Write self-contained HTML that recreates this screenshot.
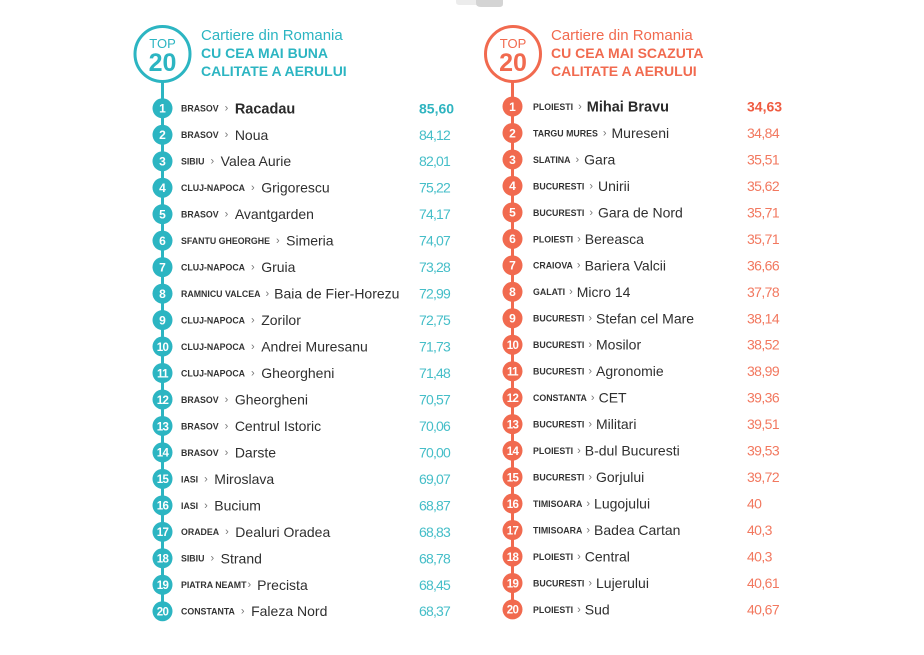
<!DOCTYPE html>
<html>
<head>
<meta charset="utf-8">
<style>
html,body{margin:0;padding:0;background:#fff;}
body{width:924px;height:655px;overflow:hidden;}
svg{display:block;}
text{font-family:"Liberation Sans",sans-serif;}
.n{fill:#fff;font-weight:bold;font-size:12px;text-anchor:middle;}
.n2{fill:#fff;font-weight:bold;font-size:11.5px;text-anchor:middle;letter-spacing:-0.6px;}
.c{fill:#333;font-weight:bold;font-size:8.8px;}
.s{fill:#777;font-weight:normal;font-size:11px;}
.h{fill:#2f2f2f;font-weight:normal;font-size:14px;}
.hb{fill:#2a2a2a;font-weight:bold;font-size:14.5px;}
.vt{fill:#45bec8;font-size:14px;letter-spacing:-0.8px;}
.vtb{fill:#2fb4c0;font-size:14px;font-weight:bold;}
.vc{fill:#f2785f;font-size:14px;letter-spacing:-0.6px;}
.vcb{fill:#ef5b40;font-size:14px;font-weight:bold;}
</style>
</head>
<body>
<svg width="924" height="655" viewBox="0 0 924 655" xmlns="http://www.w3.org/2000/svg">
<!-- top gray shape -->
<path d="M456 0 H503 V3 Q503 5 500 5 H460 Q456 5 456 2 Z" fill="#ececec"/>
<path d="M476 0 H503 V4 Q503 7 499 7 H481 Q476 7 476 3 Z" fill="#d4d4d4"/>

<!-- LEFT COLUMN -->
<line x1="162.5" y1="80" x2="162.5" y2="611" stroke="#2cb5c2" stroke-width="3"/>
<circle cx="162.5" cy="54" r="27.5" fill="#fff" stroke="#2cb5c2" stroke-width="3"/>
<text x="162.5" y="48" text-anchor="middle" style="fill:#2cb5c2;font-size:13px;">TOP</text>
<text x="162.5" y="71" text-anchor="middle" style="fill:#2cb5c2;font-size:25px;font-weight:bold;">20</text>
<text x="201" y="40" style="fill:#2cb5c2;font-size:15px;">Cartiere din Romania</text>
<text x="201" y="58" style="fill:#2cb5c2;font-size:14px;font-weight:bold;">CU CEA MAI BUNA</text>
<text x="201" y="76" style="fill:#2cb5c2;font-size:14px;font-weight:bold;">CALITATE A AERULUI</text>

<g fill="#2cb5c2">
<g transform="translate(0,108.3)"><circle cx="162.5" r="10"/><text x="162.5" y="4.3" class="n">1</text><text x="181" y="3.4" class="c">BRASOV<tspan class="s" dx="6">›</tspan><tspan class="hb" dx="6.5" dy="1.6">Racadau</tspan></text><text x="419" y="5" class="vtb">85,60</text></g>
<g transform="translate(0,134.77)"><circle cx="162.5" r="10"/><text x="162.5" y="4.3" class="n">2</text><text x="181" y="3.4" class="c">BRASOV<tspan class="s" dx="6">›</tspan><tspan class="h" dx="6.5" dy="1.6">Noua</tspan></text><text x="419" y="5" class="vt">84,12</text></g>
<g transform="translate(0,161.24)"><circle cx="162.5" r="10"/><text x="162.5" y="4.3" class="n">3</text><text x="181" y="3.4" class="c">SIBIU<tspan class="s" dx="6">›</tspan><tspan class="h" dx="6.5" dy="1.6">Valea Aurie</tspan></text><text x="419" y="5" class="vt">82,01</text></g>
<g transform="translate(0,187.71)"><circle cx="162.5" r="10"/><text x="162.5" y="4.3" class="n">4</text><text x="181" y="3.4" class="c">CLUJ-NAPOCA<tspan class="s" dx="6">›</tspan><tspan class="h" dx="6.5" dy="1.6">Grigorescu</tspan></text><text x="419" y="5" class="vt">75,22</text></g>
<g transform="translate(0,214.18)"><circle cx="162.5" r="10"/><text x="162.5" y="4.3" class="n">5</text><text x="181" y="3.4" class="c">BRASOV<tspan class="s" dx="6">›</tspan><tspan class="h" dx="6.5" dy="1.6">Avantgarden</tspan></text><text x="419" y="5" class="vt">74,17</text></g>
<g transform="translate(0,240.65)"><circle cx="162.5" r="10"/><text x="162.5" y="4.3" class="n">6</text><text x="181" y="3.4" class="c">SFANTU GHEORGHE<tspan class="s" dx="6">›</tspan><tspan class="h" dx="6.5" dy="1.6">Simeria</tspan></text><text x="419" y="5" class="vt">74,07</text></g>
<g transform="translate(0,267.12)"><circle cx="162.5" r="10"/><text x="162.5" y="4.3" class="n">7</text><text x="181" y="3.4" class="c">CLUJ-NAPOCA<tspan class="s" dx="6">›</tspan><tspan class="h" dx="6.5" dy="1.6">Gruia</tspan></text><text x="419" y="5" class="vt">73,28</text></g>
<g transform="translate(0,293.59)"><circle cx="162.5" r="10"/><text x="162.5" y="4.3" class="n">8</text><text x="181" y="3.4" class="c">RAMNICU VALCEA<tspan class="s" dx="5">›</tspan><tspan class="h" dx="5" dy="1.6">Baia de Fier-Horezu</tspan></text><text x="419" y="5" class="vt">72,99</text></g>
<g transform="translate(0,320.06)"><circle cx="162.5" r="10"/><text x="162.5" y="4.3" class="n">9</text><text x="181" y="3.4" class="c">CLUJ-NAPOCA<tspan class="s" dx="6">›</tspan><tspan class="h" dx="6.5" dy="1.6">Zorilor</tspan></text><text x="419" y="5" class="vt">72,75</text></g>
<g transform="translate(0,346.53)"><circle cx="162.5" r="10"/><text x="162.5" y="4.3" class="n2">10</text><text x="181" y="3.4" class="c">CLUJ-NAPOCA<tspan class="s" dx="6">›</tspan><tspan class="h" dx="6.5" dy="1.6">Andrei Muresanu</tspan></text><text x="419" y="5" class="vt">71,73</text></g>
<g transform="translate(0,373)"><circle cx="162.5" r="10"/><text x="162.5" y="4.3" class="n2">11</text><text x="181" y="3.4" class="c">CLUJ-NAPOCA<tspan class="s" dx="6">›</tspan><tspan class="h" dx="6.5" dy="1.6">Gheorgheni</tspan></text><text x="419" y="5" class="vt">71,48</text></g>
<g transform="translate(0,399.47)"><circle cx="162.5" r="10"/><text x="162.5" y="4.3" class="n2">12</text><text x="181" y="3.4" class="c">BRASOV<tspan class="s" dx="6">›</tspan><tspan class="h" dx="6.5" dy="1.6">Gheorgheni</tspan></text><text x="419" y="5" class="vt">70,57</text></g>
<g transform="translate(0,425.94)"><circle cx="162.5" r="10"/><text x="162.5" y="4.3" class="n2">13</text><text x="181" y="3.4" class="c">BRASOV<tspan class="s" dx="6">›</tspan><tspan class="h" dx="6.5" dy="1.6">Centrul Istoric</tspan></text><text x="419" y="5" class="vt">70,06</text></g>
<g transform="translate(0,452.41)"><circle cx="162.5" r="10"/><text x="162.5" y="4.3" class="n2">14</text><text x="181" y="3.4" class="c">BRASOV<tspan class="s" dx="6">›</tspan><tspan class="h" dx="6.5" dy="1.6">Darste</tspan></text><text x="419" y="5" class="vt">70,00</text></g>
<g transform="translate(0,478.88)"><circle cx="162.5" r="10"/><text x="162.5" y="4.3" class="n2">15</text><text x="181" y="3.4" class="c">IASI<tspan class="s" dx="6">›</tspan><tspan class="h" dx="6.5" dy="1.6">Miroslava</tspan></text><text x="419" y="5" class="vt">69,07</text></g>
<g transform="translate(0,505.35)"><circle cx="162.5" r="10"/><text x="162.5" y="4.3" class="n2">16</text><text x="181" y="3.4" class="c">IASI<tspan class="s" dx="6">›</tspan><tspan class="h" dx="6.5" dy="1.6">Bucium</tspan></text><text x="419" y="5" class="vt">68,87</text></g>
<g transform="translate(0,531.82)"><circle cx="162.5" r="10"/><text x="162.5" y="4.3" class="n2">17</text><text x="181" y="3.4" class="c">ORADEA<tspan class="s" dx="6">›</tspan><tspan class="h" dx="6.5" dy="1.6">Dealuri Oradea</tspan></text><text x="419" y="5" class="vt">68,83</text></g>
<g transform="translate(0,558.29)"><circle cx="162.5" r="10"/><text x="162.5" y="4.3" class="n2">18</text><text x="181" y="3.4" class="c">SIBIU<tspan class="s" dx="6">›</tspan><tspan class="h" dx="6.5" dy="1.6">Strand</tspan></text><text x="419" y="5" class="vt">68,78</text></g>
<g transform="translate(0,584.76)"><circle cx="162.5" r="10"/><text x="162.5" y="4.3" class="n2">19</text><text x="181" y="3.4" class="c">PIATRA NEAMT<tspan class="s" dx="1">›</tspan><tspan class="h" dx="6" dy="1.6">Precista</tspan></text><text x="419" y="5" class="vt">68,45</text></g>
<g transform="translate(0,611.23)"><circle cx="162.5" r="10"/><text x="162.5" y="4.3" class="n2">20</text><text x="181" y="3.4" class="c">CONSTANTA<tspan class="s" dx="6">›</tspan><tspan class="h" dx="6.5" dy="1.6">Faleza Nord</tspan></text><text x="419" y="5" class="vt">68,37</text></g>
</g>

<!-- RIGHT COLUMN -->
<line x1="512.5" y1="80" x2="512.5" y2="609" stroke="#f16a4f" stroke-width="3"/>
<circle cx="513" cy="54" r="27.5" fill="#fff" stroke="#f16a4f" stroke-width="3"/>
<text x="513" y="48" text-anchor="middle" style="fill:#f16a4f;font-size:13px;">TOP</text>
<text x="513" y="71" text-anchor="middle" style="fill:#f16a4f;font-size:25px;font-weight:bold;">20</text>
<text x="551" y="40" style="fill:#f16a4f;font-size:15px;">Cartiere din Romania</text>
<text x="551" y="58" style="fill:#f16a4f;font-size:14px;font-weight:bold;">CU CEA MAI SCAZUTA</text>
<text x="551" y="76" style="fill:#f16a4f;font-size:14px;font-weight:bold;">CALITATE A AERULUI</text>

<g fill="#f16a4f">
<g transform="translate(0,106.5)"><circle cx="512.5" r="10"/><text x="512.5" y="4.3" class="n">1</text><text x="533" y="3.4" class="c">PLOIESTI<tspan class="s" dx="5">›</tspan><tspan class="hb" dx="5" dy="1.6">Mihai Bravu</tspan></text><text x="747" y="5" class="vcb">34,63</text></g>
<g transform="translate(0,132.97)"><circle cx="512.5" r="10"/><text x="512.5" y="4.3" class="n">2</text><text x="533" y="3.4" class="c">TARGU MURES<tspan class="s" dx="5">›</tspan><tspan class="h" dx="5" dy="1.6">Mureseni</tspan></text><text x="747" y="5" class="vc">34,84</text></g>
<g transform="translate(0,159.44)"><circle cx="512.5" r="10"/><text x="512.5" y="4.3" class="n">3</text><text x="533" y="3.4" class="c">SLATINA<tspan class="s" dx="5">›</tspan><tspan class="h" dx="5" dy="1.6">Gara</tspan></text><text x="747" y="5" class="vc">35,51</text></g>
<g transform="translate(0,185.91)"><circle cx="512.5" r="10"/><text x="512.5" y="4.3" class="n">4</text><text x="533" y="3.4" class="c">BUCURESTI<tspan class="s" dx="5">›</tspan><tspan class="h" dx="5" dy="1.6">Unirii</tspan></text><text x="747" y="5" class="vc">35,62</text></g>
<g transform="translate(0,212.38)"><circle cx="512.5" r="10"/><text x="512.5" y="4.3" class="n">5</text><text x="533" y="3.4" class="c">BUCURESTI<tspan class="s" dx="5">›</tspan><tspan class="h" dx="5" dy="1.6">Gara de Nord</tspan></text><text x="747" y="5" class="vc">35,71</text></g>
<g transform="translate(0,238.85)"><circle cx="512.5" r="10"/><text x="512.5" y="4.3" class="n">6</text><text x="533" y="3.4" class="c">PLOIESTI<tspan class="s" dx="4">›</tspan><tspan class="h" dx="4" dy="1.6">Bereasca</tspan></text><text x="747" y="5" class="vc">35,71</text></g>
<g transform="translate(0,265.32)"><circle cx="512.5" r="10"/><text x="512.5" y="4.3" class="n">7</text><text x="533" y="3.4" class="c">CRAIOVA<tspan class="s" dx="4">›</tspan><tspan class="h" dx="4" dy="1.6">Bariera Valcii</tspan></text><text x="747" y="5" class="vc">36,66</text></g>
<g transform="translate(0,291.79)"><circle cx="512.5" r="10"/><text x="512.5" y="4.3" class="n">8</text><text x="533" y="3.4" class="c">GALATI<tspan class="s" dx="4">›</tspan><tspan class="h" dx="4" dy="1.6">Micro 14</tspan></text><text x="747" y="5" class="vc">37,78</text></g>
<g transform="translate(0,318.26)"><circle cx="512.5" r="10"/><text x="512.5" y="4.3" class="n">9</text><text x="533" y="3.4" class="c">BUCURESTI<tspan class="s" dx="4">›</tspan><tspan class="h" dx="4" dy="1.6">Stefan cel Mare</tspan></text><text x="747" y="5" class="vc">38,14</text></g>
<g transform="translate(0,344.73)"><circle cx="512.5" r="10"/><text x="512.5" y="4.3" class="n2">10</text><text x="533" y="3.4" class="c">BUCURESTI<tspan class="s" dx="4">›</tspan><tspan class="h" dx="4" dy="1.6">Mosilor</tspan></text><text x="747" y="5" class="vc">38,52</text></g>
<g transform="translate(0,371.2)"><circle cx="512.5" r="10"/><text x="512.5" y="4.3" class="n2">11</text><text x="533" y="3.4" class="c">BUCURESTI<tspan class="s" dx="4">›</tspan><tspan class="h" dx="4" dy="1.6">Agronomie</tspan></text><text x="747" y="5" class="vc">38,99</text></g>
<g transform="translate(0,397.67)"><circle cx="512.5" r="10"/><text x="512.5" y="4.3" class="n2">12</text><text x="533" y="3.4" class="c">CONSTANTA<tspan class="s" dx="4">›</tspan><tspan class="h" dx="4" dy="1.6">CET</tspan></text><text x="747" y="5" class="vc">39,36</text></g>
<g transform="translate(0,424.14)"><circle cx="512.5" r="10"/><text x="512.5" y="4.3" class="n2">13</text><text x="533" y="3.4" class="c">BUCURESTI<tspan class="s" dx="4">›</tspan><tspan class="h" dx="4" dy="1.6">Militari</tspan></text><text x="747" y="5" class="vc">39,51</text></g>
<g transform="translate(0,450.61)"><circle cx="512.5" r="10"/><text x="512.5" y="4.3" class="n2">14</text><text x="533" y="3.4" class="c">PLOIESTI<tspan class="s" dx="4">›</tspan><tspan class="h" dx="4" dy="1.6">B-dul Bucuresti</tspan></text><text x="747" y="5" class="vc">39,53</text></g>
<g transform="translate(0,477.08)"><circle cx="512.5" r="10"/><text x="512.5" y="4.3" class="n2">15</text><text x="533" y="3.4" class="c">BUCURESTI<tspan class="s" dx="4">›</tspan><tspan class="h" dx="4" dy="1.6">Gorjului</tspan></text><text x="747" y="5" class="vc">39,72</text></g>
<g transform="translate(0,503.55)"><circle cx="512.5" r="10"/><text x="512.5" y="4.3" class="n2">16</text><text x="533" y="3.4" class="c">TIMISOARA<tspan class="s" dx="4">›</tspan><tspan class="h" dx="4" dy="1.6">Lugojului</tspan></text><text x="747" y="5" class="vc">40</text></g>
<g transform="translate(0,530.02)"><circle cx="512.5" r="10"/><text x="512.5" y="4.3" class="n2">17</text><text x="533" y="3.4" class="c">TIMISOARA<tspan class="s" dx="4">›</tspan><tspan class="h" dx="4" dy="1.6">Badea Cartan</tspan></text><text x="747" y="5" class="vc">40,3</text></g>
<g transform="translate(0,556.49)"><circle cx="512.5" r="10"/><text x="512.5" y="4.3" class="n2">18</text><text x="533" y="3.4" class="c">PLOIESTI<tspan class="s" dx="4">›</tspan><tspan class="h" dx="4" dy="1.6">Central</tspan></text><text x="747" y="5" class="vc">40,3</text></g>
<g transform="translate(0,582.96)"><circle cx="512.5" r="10"/><text x="512.5" y="4.3" class="n2">19</text><text x="533" y="3.4" class="c">BUCURESTI<tspan class="s" dx="4">›</tspan><tspan class="h" dx="4" dy="1.6">Lujerului</tspan></text><text x="747" y="5" class="vc">40,61</text></g>
<g transform="translate(0,609.43)"><circle cx="512.5" r="10"/><text x="512.5" y="4.3" class="n2">20</text><text x="533" y="3.4" class="c">PLOIESTI<tspan class="s" dx="4">›</tspan><tspan class="h" dx="4" dy="1.6">Sud</tspan></text><text x="747" y="5" class="vc">40,67</text></g>
</g>
</svg>
</body>
</html>
